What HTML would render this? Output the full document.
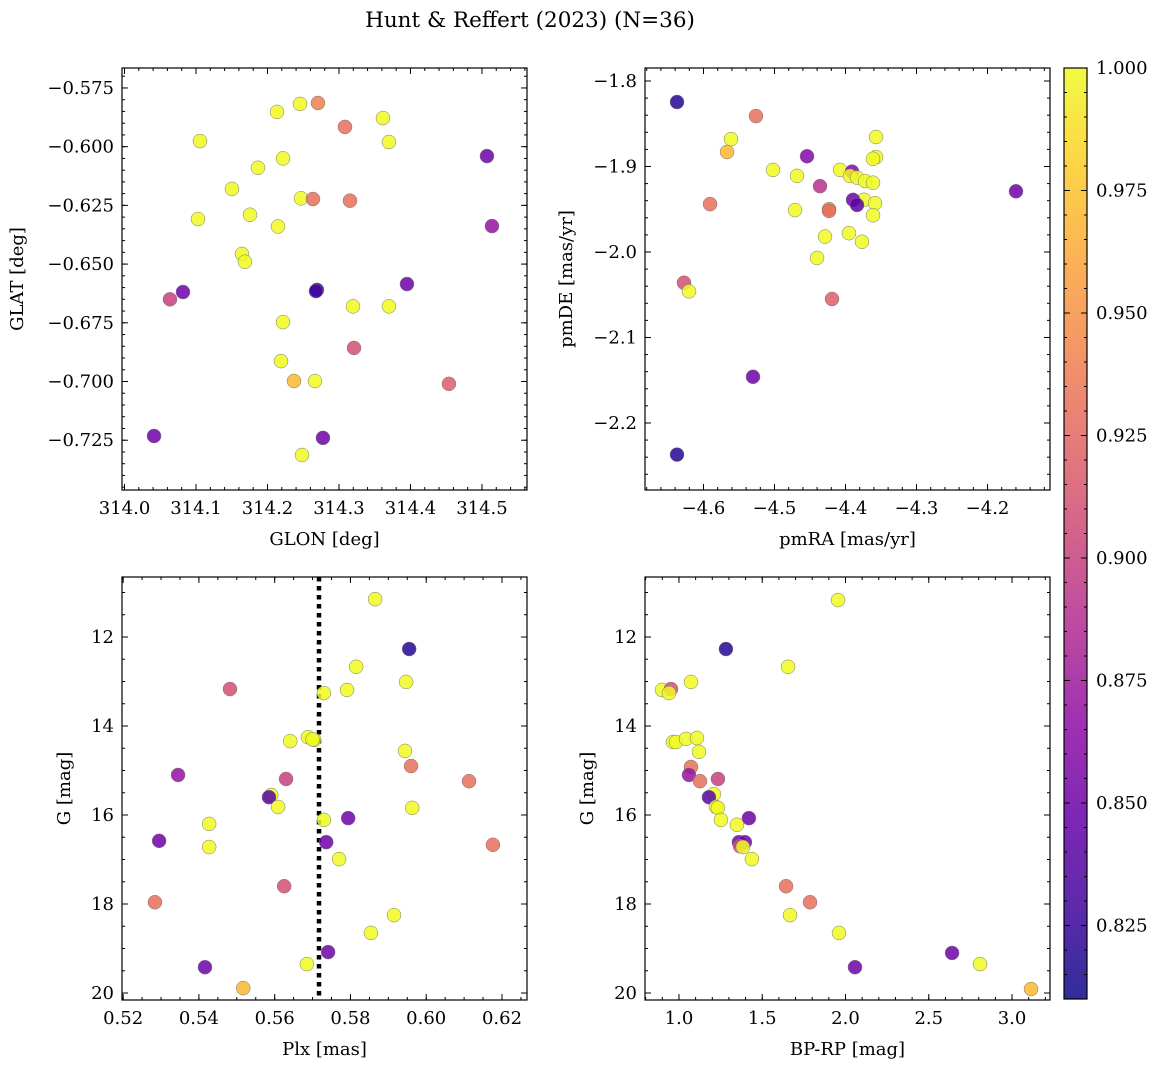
<!DOCTYPE html>
<html><head><meta charset="utf-8"><style>
body{margin:0;background:#fff}
svg{display:block;font-family:"DejaVu Serif","Liberation Serif",serif}
</style></head><body>
<svg id="chart" width="1161" height="1067" viewBox="0 0 1161 1067" xmlns="http://www.w3.org/2000/svg">
<text x="530" y="27" font-size="21.5" text-anchor="middle">Hunt &amp; Reffert (2023) (N=36)</text>
</svg>
<script>
// Panel 1: GLON vs GLAT
const p1x=[314.2706,314.2455,314.2133,314.3084,314.3615,314.1056,314.3699,314.5070,314.2217,314.1867,314.1503,314.2469,314.2636,314.3154,314.1028,314.1755,314.2147,314.5140,314.1643,314.1685,314.2692,314.2678,314.0818,314.0636,314.3951,314.3196,314.3699,314.2217,314.3210,314.2189,314.2371,314.2664,314.4538,314.0413,314.2776,314.2483];
const p1y=[-0.5814,-0.5818,-0.5852,-0.5916,-0.5878,-0.5976,-0.598,-0.604,-0.605,-0.609,-0.618,-0.622,-0.6223,-0.623,-0.6308,-0.629,-0.634,-0.6338,-0.6457,-0.649,-0.661,-0.6615,-0.6619,-0.665,-0.6585,-0.668,-0.668,-0.6747,-0.6857,-0.6913,-0.6998,-0.6998,-0.701,-0.7232,-0.724,-0.7313];
const p1c=[0.94,1,1,0.93,1,1,1,0.85,1,1,1,1,0.93,0.93,1,1,1,0.87,1,1,0.82,0.83,0.85,0.90,0.85,1,1,1,0.91,1,0.97,1,0.92,0.85,0.85,1];
// Panel 2: pmRA vs pmDE
const p2x=[-4.6373,-4.5261,-4.5613,-4.5669,-4.4542,-4.3570,-4.3570,-4.3613,-4.5021,-4.4077,-4.3908,-4.4683,-4.3937,-4.3838,-4.3725,-4.3613,-4.4359,-4.3739,-4.3585,-4.3894,-4.3838,-4.1599,-4.5908,-4.4711,-4.4232,-4.4232,-4.3613,-4.3951,-4.4289,-4.3768,-4.4401,-4.6275,-4.6204,-4.4190,-4.5303,-4.6373];
const p2y=[-1.8246,-1.841,-1.868,-1.883,-1.888,-1.8655,-1.889,-1.891,-1.904,-1.904,-1.906,-1.911,-1.911,-1.913,-1.917,-1.919,-1.923,-1.939,-1.943,-1.939,-1.945,-1.929,-1.944,-1.951,-1.950,-1.952,-1.957,-1.978,-1.982,-1.988,-2.007,-2.036,-2.046,-2.055,-2.146,-2.237];
const p2c=[0.82,0.93,1,0.97,0.86,1,1,1,1,1,0.86,1,1,1,1,1,0.89,1,1,0.85,0.84,0.85,0.93,1,0.94,0.93,1,1,1,1,1,0.91,1,0.92,0.85,0.82];
// Panel 3: Plx vs G
const p3x=[0.5865,0.5955,0.5815,0.5482,0.5947,0.5791,0.5730,0.5688,0.5641,0.5704,0.5944,0.5960,0.6113,0.5345,0.5630,0.5591,0.5585,0.5609,0.5963,0.5730,0.5794,0.5427,0.5295,0.5736,0.5427,0.6176,0.5770,0.5625,0.5284,0.5915,0.5854,0.5685,0.5741,0.5416,0.5517,0.5700];
const p3y=[11.15,12.27,12.67,13.17,13.01,13.19,13.26,14.25,14.34,14.31,14.56,14.90,15.24,15.10,15.19,15.55,15.60,15.82,15.84,16.11,16.07,16.20,16.58,16.61,16.72,16.67,16.99,17.60,17.96,18.25,18.65,19.35,19.08,19.42,19.89,14.30];
const p3c=[1,0.82,1,0.91,1,1,1,1,1,1,1,0.93,0.93,0.87,0.90,1,0.84,1,1,1,0.85,1,0.85,0.85,1,0.93,1,0.91,0.93,1,1,1,0.85,0.85,0.97,1];
// Panel 4: BP-RP vs G
const p4x=[1.955,1.282,1.655,0.898,0.952,0.94,1.072,0.964,0.982,1.042,1.108,1.12,1.072,1.06,1.126,1.234,1.21,1.18,1.222,1.234,1.252,1.42,1.348,1.36,1.396,1.366,1.384,1.438,1.643,1.787,1.667,1.961,2.057,2.64,2.808,3.114];
const p4y=[11.17,12.27,12.67,13.19,13.17,13.26,13.01,14.36,14.36,14.29,14.27,14.58,14.92,15.10,15.24,15.19,15.53,15.60,15.82,15.84,16.11,16.07,16.22,16.61,16.61,16.70,16.72,16.99,17.60,17.96,18.25,18.65,19.42,19.10,19.35,19.91];
const p4c=[1,0.82,1,1,0.91,1,1,1,1,1,1,1,0.93,0.87,0.93,0.90,1,0.84,1,1,1,0.85,1,0.85,0.85,0.91,1,1,0.93,0.93,1,1,0.85,0.85,1,0.97];
const cbTicks=[0.825,0.850,0.875,0.900,0.925,0.950,0.975,1.000];

const NS="http://www.w3.org/2000/svg";
const svg=document.getElementById('chart');
function mk(t,a,p){const e=document.createElementNS(NS,t);for(const k in a)e.setAttribute(k,a[k]);(p||svg).appendChild(e);return e;}
const stops=["#0d0887","#41049d","#6a00a8","#8f0da4","#b12a90","#cc4778","#e16462","#f2844b","#fca636","#fcce25","#f0f921"];
function hx(h){return [1,3,5].map(i=>parseInt(h.substr(i,2),16));}
function plasma(t){t=Math.max(0,Math.min(1,t));const f=t*10,i=Math.min(9,Math.floor(f)),u=f-i;const a=hx(stops[i]),b=hx(stops[i+1]);return 'rgb('+a.map((v,k)=>Math.round(v+(b[k]-v)*u)).join(',')+')';}
const vmin=0.81,vmax=1.0;
function col(v){return plasma((v-vmin)/(vmax-vmin));}
const FS=18;

function panel(o){
  const {name,L,R,T,B,x0,x1,y0,y1,xt,yt,xm,ym,xl,yl,xs,ys,xf,yf}=o;
  const g=mk('g',{});
  
  
  const X=v=>L+(v-x0)/(x1-x0)*(R-L);
  const Y=v=>T+(v-y0)/(y1-y0)*(B-T);
  const tk=mk('g',{stroke:'#000','stroke-width':1},g);
  
  
  const lo=Math.min(x0,x1),hi=Math.max(x0,x1);
  for(let v=Math.ceil(lo/xm-1e-6)*xm;v<=hi+1e-9;v+=xm){const px=X(v);mk('line',{x1:px,x2:px,y1:B,y2:B-3},tk);mk('line',{x1:px,x2:px,y1:T,y2:T+3},tk);}
  const ylo=Math.min(y0,y1),yhi=Math.max(y0,y1);
  for(let v=Math.ceil(ylo/ym-1e-6)*ym;v<=yhi+1e-9;v+=ym){const py=Y(v);mk('line',{x1:L,x2:L+3,y1:py,y2:py},tk);mk('line',{x1:R,x2:R-3,y1:py,y2:py},tk);}
  xt.forEach(v=>{const px=X(v);mk('line',{x1:px,x2:px,y1:B,y2:B-6},tk);mk('line',{x1:px,x2:px,y1:T,y2:T+6},tk);
    const t=mk('text',{x:px,y:B+24,'font-size':FS,'text-anchor':'middle'},g);t.textContent=xf(v);
    });
  yt.forEach(v=>{const py=Y(v);mk('line',{x1:L,x2:L+6,y1:py,y2:py},tk);mk('line',{x1:R,x2:R-6,y1:py,y2:py},tk);
    const t=mk('text',{x:L-8,y:py+6,'font-size':FS,'text-anchor':'end'},g);t.textContent=yf(v);
    });
  if(o.vline!==undefined){const l=mk('line',{x1:X(o.vline),x2:X(o.vline),y1:T,y2:B,stroke:'#000','stroke-width':4.5,'stroke-dasharray':'4.5,4.5'},g);
    }
  const pts=mk('g',{},g);
  
  
  xs.forEach((v,i)=>{const c=mk('circle',{cx:X(v),cy:Y(ys[i]),r:7,fill:col(o.cs[i]),'fill-opacity':0.85,stroke:'#777','stroke-width':0.5},pts);
    });
  const fr=mk('rect',{x:L,y:T,width:R-L,height:B-T,fill:'none',stroke:'#000','stroke-width':1.2},g);
  
  const a=mk('text',{x:(L+R)/2,y:B+55,'font-size':FS,'text-anchor':'middle'},g);a.textContent=xl;
  
  const yx=o.ylx, b=mk('text',{x:yx,y:(T+B)/2,'font-size':FS,'text-anchor':'middle',transform:`rotate(-90 ${yx} ${(T+B)/2})`},g);b.textContent=yl;
  
}
const m=v=>v<0?'\u2212'+Math.abs(v).toFixed(3):v.toFixed(3);
panel({name:'glon-glat-panel',L:122,R:527,T:68,B:490,x0:313.9965,x1:314.563,y0:-0.5665,y1:-0.7462,
  xt:[314.0,314.1,314.2,314.3,314.4,314.5],yt:[-0.575,-0.6,-0.625,-0.65,-0.675,-0.7,-0.725],xm:0.02,ym:0.005,
  xf:v=>v.toFixed(1),yf:m,xl:'GLON [deg]',yl:'GLAT [deg]',ylx:23,xs:p1x,ys:p1y,cs:p1c});
panel({name:'proper-motion-panel',L:645,R:1050,T:68,B:490,x0:-4.6824,x1:-4.112,y0:-1.7848,y1:-2.2784,
  xt:[-4.6,-4.5,-4.4,-4.3,-4.2],yt:[-1.8,-1.9,-2.0,-2.1,-2.2],xm:0.02,ym:0.02,
  xf:v=>'\u2212'+Math.abs(v).toFixed(1),yf:v=>'\u2212'+Math.abs(v).toFixed(1),xl:'pmRA [mas/yr]',yl:'pmDE [mas/yr]',ylx:572,xs:p2x,ys:p2y,cs:p2c});
panel({name:'parallax-magnitude-panel',L:122,R:527,T:577,B:1000,x0:0.5197,x1:0.6266,y0:10.652,y1:20.157,
  xt:[0.52,0.54,0.56,0.58,0.60,0.62],yt:[12,14,16,18,20],xm:0.005,ym:0.5,vline:0.5717,
  xf:v=>v.toFixed(2),yf:v=>String(v),xl:'Plx [mas]',yl:'G [mag]',ylx:70,xs:p3x,ys:p3y,cs:p3c});
panel({name:'color-magnitude-panel',L:645,R:1050,T:577,B:1000,x0:0.796,x1:3.228,y0:10.652,y1:20.157,
  xt:[1.0,1.5,2.0,2.5,3.0],yt:[12,14,16,18,20],xm:0.1,ym:0.5,
  xf:v=>v.toFixed(1),yf:v=>String(v),xl:'BP-RP [mag]',yl:'G [mag]',ylx:593,xs:p4x,ys:p4y,cs:p4c});

// Colorbar
const cb=mk('g',{});


const CT=68,CB=999,CL=1064,CR=1087;
const defs=mk('defs',{},cb),gr=mk('linearGradient',{id:'cbg',x1:0,y1:1,x2:0,y2:0},defs);
for(let i=0;i<=20;i++){mk('stop',{offset:i/20,'stop-color':plasma(i/20),'stop-opacity':0.85},gr);}
mk('rect',{x:CL,y:CT,width:CR-CL,height:CB-CT,fill:'url(#cbg)',stroke:'#000','stroke-width':1.2},cb);
const CY=v=>CB-(v-vmin)/(vmax-vmin)*(CB-CT);
for(let v=0.815;v<=1.0001;v+=0.005){mk('line',{x1:CR,x2:CR-3,y1:CY(v),y2:CY(v),stroke:'#000'},cb);mk('line',{x1:CL,x2:CL+3,y1:CY(v),y2:CY(v),stroke:'#000'},cb);}
cbTicks.forEach(v=>{const y=CY(v);mk('line',{x1:CR,x2:CR-6,y1:y,y2:y,stroke:'#000'},cb);mk('line',{x1:CL,x2:CL+6,y1:y,y2:y,stroke:'#000'},cb);
  const t=mk('text',{x:CR+9,y:y+6,'font-size':FS},cb);t.textContent=v.toFixed(3);
  });
</script>
</body></html>
